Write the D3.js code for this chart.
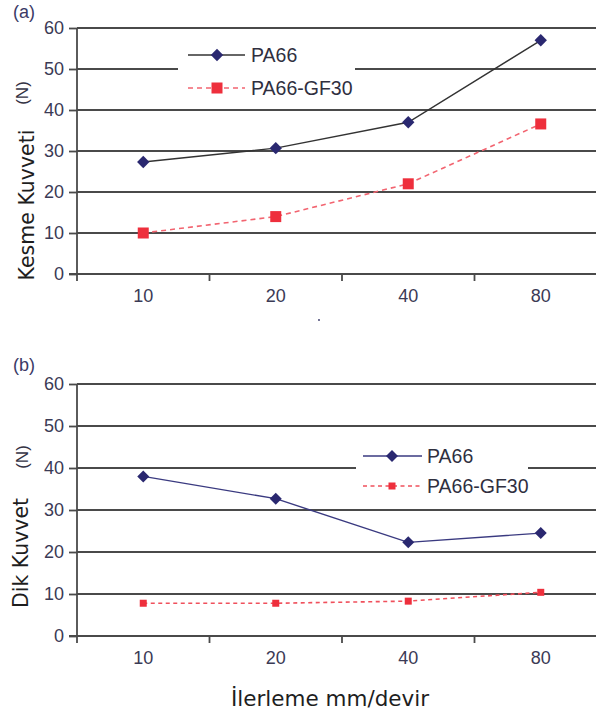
<!DOCTYPE html>
<html>
<head>
<meta charset="utf-8">
<script src="https://cdn.jsdelivr.net/npm/d3@7"></script>
<style>
  html, body { margin: 0; padding: 0; background: #fff; }
  svg { display: block; }
</style>
</head>
<body>
<svg id="chart" width="596" height="714"></svg>
<script>
// Feed rate categories (mm/devir)
const categories = ["10", "20", "40", "80"];
const yTicks = [0, 10, 20, 30, 40, 50, 60];
const seriesNames = ["PA66", "PA66-GF30"];

// (a) Kesme kuvveti (N)
const cuttingPA66 = [27.3, 30.7, 37.0, 57.0];
const cuttingGF30 = [10.0, 14.0, 22.0, 36.6];

// (b) Dik kuvvet (N)
const normalPA66 = [38.0, 32.7, 22.3, 24.5];
const normalGF30 = [7.8, 7.8, 8.3, 10.4];

const svg = d3.select("#chart");
const tickFont = "'Liberation Sans', Arial, sans-serif";
const titleFont = "'DejaVu Sans', 'Open Sans', sans-serif";
const tickColor = "#3b3a55";
const gridColor = "#4a4a4a";
const navy = "#2a2870";
const red = "#ee2f3c";

const panels = [
  {
    tag: "(a)", tagY: 18,
    top: 28, bottom: 274,
    pa66: cuttingPA66, gf30: cuttingGF30,
    pa66Line: "#333333", gfLine: "#f26470", gfDash: "5,4",
    squareSize: 11, diamond: 6.2,
    yTitle: "Kesme Kuvveti", yTitleX: 34, yTitleY: 205, nX: 28, nY: 93,
    legend: { x0: 178, x1: 355, y0: 38, y1: 102, lineX0: 188, lineX1: 245, markX: 217, textX: 251, row1: 55, row2: 88 }
  },
  {
    tag: "(b)", tagY: 371,
    top: 384, bottom: 636,
    pa66: normalPA66, gf30: normalGF30,
    pa66Line: "#3a3a80", gfLine: "#f0505c", gfDash: "4,3.5",
    squareSize: 7, diamond: 6,
    yTitle: "Dik Kuvvet", yTitleX: 28, yTitleY: 553, nX: 28, nY: 457,
    legend: { x0: 356, x1: 528, y0: 442, y1: 500, lineX0: 363, lineX1: 422, markX: 392, textX: 427, row1: 456, row2: 486 }
  }
];

const left = 77, right = 607;
const x = d3.scaleBand().domain(categories).range([left, right]);

panels.forEach(p => {
  const g = svg.append("g");
  const y = d3.scaleLinear().domain([0, 60]).range([p.bottom, p.top]);

  // horizontal gridlines
  g.append("g").selectAll("line").data(yTicks.slice(1)).join("line")
    .attr("x1", left).attr("x2", 596)
    .attr("y1", d => y(d)).attr("y2", d => y(d))
    .attr("stroke", gridColor).attr("stroke-width", 1.8);

  // legend box hides the gridline behind it
  const L = p.legend;
  g.append("rect")
    .attr("x", L.x0).attr("y", L.y0)
    .attr("width", L.x1 - L.x0).attr("height", L.y1 - L.y0)
    .attr("fill", "#fff");

  // y axis
  const yAxis = g.append("g")
    .attr("transform", `translate(${left},0)`)
    .call(d3.axisLeft(y).tickValues(yTicks).tickSize(8).tickPadding(5));
  yAxis.select(".domain").attr("stroke", gridColor).attr("stroke-width", 1.8)
    .attr("d", `M0,${p.top}V${p.bottom + 7}`);
  yAxis.selectAll(".tick line").attr("stroke", gridColor).attr("stroke-width", 1.8);
  yAxis.selectAll("text")
    .attr("fill", tickColor).style("font-family", tickFont).style("font-size", "18px");

  // x axis baseline with ticks at category boundaries
  g.append("line")
    .attr("x1", left - 8).attr("x2", 596)
    .attr("y1", y(0)).attr("y2", y(0))
    .attr("stroke", gridColor).attr("stroke-width", 1.8);
  const bounds = categories.slice(1).map(c => x(c));
  g.append("g").selectAll("line").data(bounds).join("line")
    .attr("x1", d => d).attr("x2", d => d)
    .attr("y1", y(0)).attr("y2", y(0) + 7)
    .attr("stroke", gridColor).attr("stroke-width", 1.8);

  const xAxis = g.append("g")
    .attr("transform", `translate(0,${y(0)})`)
    .call(d3.axisBottom(x).tickSize(0).tickPadding(15));
  xAxis.select(".domain").remove();
  xAxis.selectAll("text")
    .attr("fill", tickColor).style("font-family", tickFont).style("font-size", "18px");

  const cx = c => x(c) + x.bandwidth() / 2;
  const line = d3.line().x((d, i) => cx(categories[i])).y(d => y(d));

  // PA66-GF30 series (dashed red with squares)
  g.append("path").datum(p.gf30)
    .attr("d", line).attr("fill", "none")
    .attr("stroke", p.gfLine).attr("stroke-width", 1.6)
    .attr("stroke-dasharray", p.gfDash);
  g.append("g").selectAll("rect").data(p.gf30).join("rect")
    .attr("x", (d, i) => cx(categories[i]) - p.squareSize / 2)
    .attr("y", d => y(d) - p.squareSize / 2)
    .attr("width", p.squareSize).attr("height", p.squareSize)
    .attr("fill", red);

  // PA66 series (solid line with diamonds)
  g.append("path").datum(p.pa66)
    .attr("d", line).attr("fill", "none")
    .attr("stroke", p.pa66Line).attr("stroke-width", 1.4);
  const dia = s => `M0,${-s}L${s},0L0,${s}L${-s},0Z`;
  g.append("g").selectAll("path").data(p.pa66).join("path")
    .attr("transform", (d, i) => `translate(${cx(categories[i])},${y(d)})`)
    .attr("d", dia(p.diamond))
    .attr("fill", navy);

  // legend
  g.append("line")
    .attr("x1", L.lineX0).attr("x2", L.lineX1)
    .attr("y1", L.row1).attr("y2", L.row1)
    .attr("stroke", p.pa66Line).attr("stroke-width", 1.4);
  g.append("path")
    .attr("transform", `translate(${L.markX},${L.row1})`)
    .attr("d", dia(p.diamond)).attr("fill", navy);
  g.append("line")
    .attr("x1", L.lineX0).attr("x2", L.lineX1)
    .attr("y1", L.row2).attr("y2", L.row2)
    .attr("stroke", p.gfLine).attr("stroke-width", 1.6)
    .attr("stroke-dasharray", p.gfDash);
  g.append("rect")
    .attr("x", L.markX - p.squareSize / 2).attr("y", L.row2 - p.squareSize / 2)
    .attr("width", p.squareSize).attr("height", p.squareSize)
    .attr("fill", red);
  g.selectAll(".legtext").data(seriesNames).join("text")
    .attr("class", "legtext")
    .attr("x", L.textX)
    .attr("y", (d, i) => i === 0 ? L.row1 : L.row2)
    .attr("dy", "0.35em")
    .attr("fill", "#2f2f3f")
    .style("font-family", tickFont).style("font-size", "19.5px")
    .text(d => d);

  // panel tag
  g.append("text")
    .attr("x", 13).attr("y", p.tagY)
    .attr("fill", "#3b3a66")
    .style("font-family", tickFont).style("font-size", "18px")
    .text(p.tag);

  // y title and unit
  g.append("text")
    .attr("transform", `translate(${p.yTitleX},${p.yTitleY}) rotate(-90)`)
    .attr("text-anchor", "middle")
    .attr("fill", "#1e1e1e")
    .style("font-family", titleFont).style("font-size", "20.5px")
    .text(p.yTitle);
  g.append("text")
    .attr("transform", `translate(${p.nX},${p.nY}) rotate(-90)`)
    .attr("text-anchor", "middle")
    .attr("fill", "#333344")
    .style("font-family", tickFont).style("font-size", "17px")
    .text("(N)");
});

// small stray dot under panel (a)
svg.append("circle").attr("cx", 319).attr("cy", 320).attr("r", 0.9).attr("fill", "#333366");

// shared x title
svg.append("text")
  .attr("x", 330).attr("y", 706)
  .attr("text-anchor", "middle")
  .attr("fill", "#1e1e1e")
  .style("font-family", titleFont).style("font-size", "21.5px")
  .text("İlerleme mm/devir");
</script>
</body>
</html>
